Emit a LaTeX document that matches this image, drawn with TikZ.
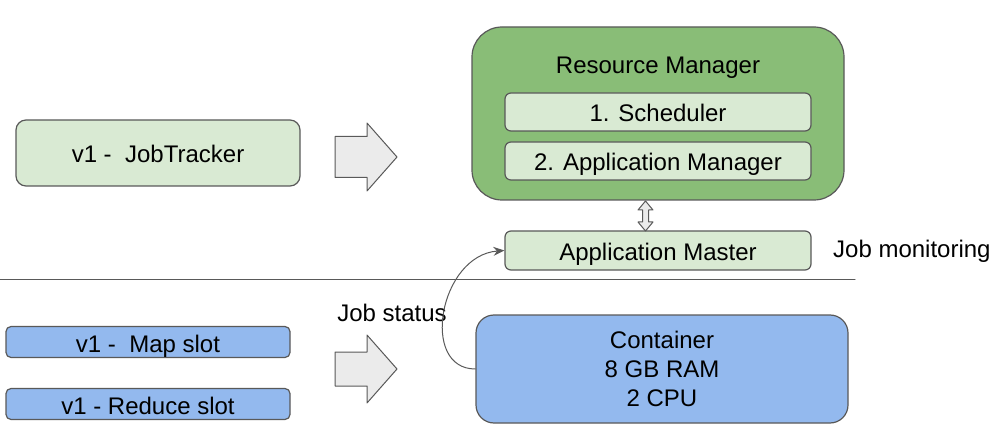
\documentclass[tikz,border=0pt]{standalone}
\usepackage{fontspec}
\setmainfont{Liberation Sans}
\usetikzlibrary{arrows.meta,positioning}
\definecolor{lineGrey}{HTML}{595959}
\definecolor{arrowGrey}{HTML}{EBEBEB}
\definecolor{paleGreen}{HTML}{D9EAD3}
\definecolor{midGreen}{HTML}{89BD77}
\definecolor{slotBlue}{HTML}{93B9EE}
\begin{document}
\begin{tikzpicture}[x=1pt, y=-1pt, line join=round, line cap=round, >={Stealth[length=11pt,width=9pt]}]

		\tikzset{label style/.style={font=\fontsize{24}{29}\selectfont, inner sep=0pt, text height=22pt, text depth=2pt},
			box style/.style={label style, draw=lineGrey, line width=1.2pt, align=center},
			pale box/.style={box style, fill=paleGreen, rounded corners=6pt},
			slot box/.style={box style, fill=slotBlue, rounded corners=5pt, minimum width=284pt, minimum height=31pt}}

		\useasboundingbox (0,0) rectangle (997,433);

		\node[pale box, rounded corners=10pt, minimum width=284pt, minimum height=66pt] (tracker) at (158,153) {v1 -\ \ JobTracker};

		\node[box style, fill=midGreen, rounded corners=30pt, minimum width=372pt, minimum height=173pt] (rm) at (658,113.5) {};
		\node[label style] (rmtitle) at (658,64) {Resource Manager};
		\node[pale box, minimum width=306pt, minimum height=38pt] (sched) at (658,112) {1. Scheduler};
		\node[pale box, minimum width=306pt, minimum height=38pt] (appmgr) at (658,161) {2. Application Manager};

		\node[pale box, minimum width=306pt, minimum height=39pt] (appmaster) at (658,250.5) {Application Master};
		\node[label style, anchor=west] (monitor) at (833,248) {Job monitoring};

		\draw[lineGrey, line width=1pt] (0,279) -- (855,279);

		\node[slot box] (mapslot) at (148,342) {v1 -\ \ Map slot};
		\node[slot box] (reduceslot) at (148,404) {v1 - Reduce slot};

		\node[box style, fill=slotBlue, rounded corners=18pt, minimum width=372pt, minimum height=108pt, text height=, text depth=] (container) at (662,369) {Container\\8 GB RAM\\2 CPU};
		\node[label style] (status) at (392,311) {Job status};

		\foreach \y/\s in {157/20.5, 369/17}
		\filldraw[fill=arrowGrey, draw=lineGrey, line width=1pt] (335,\y-\s) -- (367,\y-\s) -- (367,\y-34) -- (397,\y) -- (367,\y+34) -- (367,\y+\s) -- (335,\y+\s) -- cycle;

		\filldraw[fill=arrowGrey, draw=lineGrey, line width=1pt] (645.5,201) -- (653,210) -- (648.5,210) -- (648.5,222) -- (653,222) -- (645.5,231) -- (638,222) -- (642.5,222) -- (642.5,210) -- (638,210) -- cycle;

		\draw[->, lineGrey, line width=1pt] (container.west) .. controls +(-56,0) and +(-65,5) .. (appmaster.west);
		\end{tikzpicture}
\end{document}
